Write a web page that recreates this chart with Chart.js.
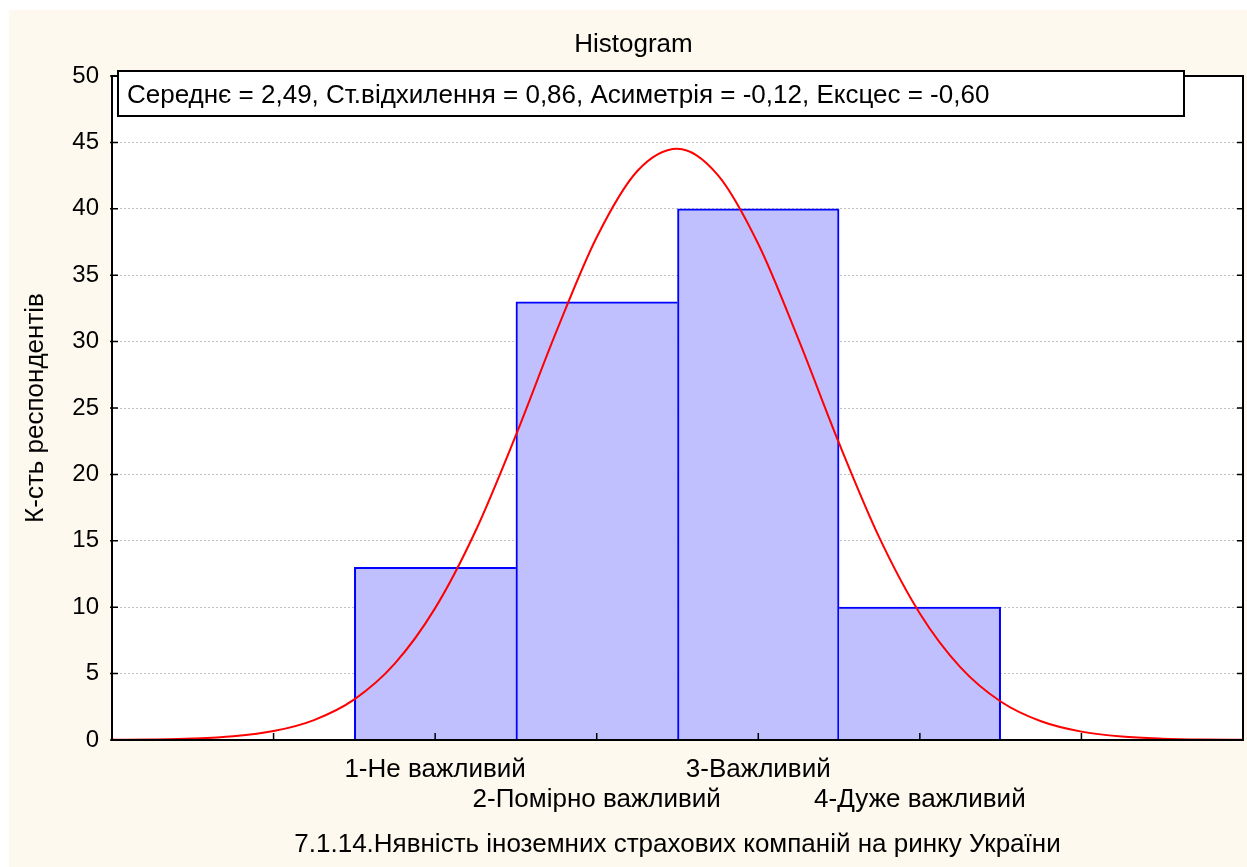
<!DOCTYPE html>
<html>
<head>
<meta charset="utf-8">
<script src="https://cdn.jsdelivr.net/npm/chart.js@4.4.0/dist/chart.umd.min.js"></script>
<style>
  html, body { margin: 0; padding: 0; background: #ffffff; }
  #wrap { position: absolute; left: 9px; top: 10px; width: 1238px; height: 857px; background: #fdf9ee; }
</style>
</head>
<body>
<div id="wrap"><canvas id="hist"></canvas></div>
<script>
// Histogram of answers with the fitted normal curve

const categories = ['1-Не важливий', '2-Помірно важливий', '3-Важливий', '4-Дуже важливий'];
const codes = [1, 2, 3, 4];                 // x position of each answer
const counts = [13, 33, 40, 10];            // respondents per answer

// normal curve, every 0.25
const curveX = [-1, -0.75, -0.5, -0.25, 0, 0.25, 0.5, 0.75, 1, 1.25, 1.5, 1.75, 2, 2.25, 2.5,
                2.75, 3, 3.25, 3.5, 3.75, 4, 4.25, 4.5, 4.75, 5, 5.25, 5.5, 5.75, 6];
const curveY = [0.01, 0.04, 0.11, 0.28, 0.67, 1.5, 3.06, 5.75, 9.93, 15.74, 22.96, 30.75, 37.86, 42.83, 44.53,
                42.54, 37.35, 30.13, 22.35, 15.22, 9.53, 5.49, 2.9, 1.41, 0.63, 0.26, 0.1, 0.03, 0.01];

const statsText = 'Середнє = 2,49, Ст.відхилення = 0,86, Асиметрія = -0,12, Ексцес = -0,60';
const xTitle = '7.1.14.Нявність іноземних страхових компаній на ринку України';
const yTitle = 'К-сть респондентів';

const FONT = '"Liberation Sans", Arial, sans-serif';
Chart.defaults.font.family = FONT;
Chart.defaults.color = '#000';

// white plot area, black frame, inward ticks, stats box
const framePlugin = {
    id: 'frame',
    beforeDraw(chart) {
        const {ctx, chartArea: a} = chart;
        ctx.save();
        ctx.fillStyle = '#ffffff';
        ctx.fillRect(a.left, a.top, a.right - a.left, a.bottom - a.top);
        ctx.restore();
    },
    afterDatasetsDraw(chart) {
        const {ctx, chartArea: a, scales: {x, y}} = chart;
        ctx.save();
        ctx.strokeStyle = '#000';
        ctx.lineWidth = 2;
        ctx.strokeRect(a.left, a.top, a.right - a.left, a.bottom - a.top);
        ctx.lineWidth = 1.5;
        ctx.beginPath();
        x.ticks.forEach(t => {
            if (t.value <= x.min || t.value >= x.max) return;
            const px = x.getPixelForValue(t.value);
            ctx.moveTo(px, a.bottom);
            ctx.lineTo(px, a.bottom - 7);
        });
        y.ticks.forEach(t => {
            const py = y.getPixelForValue(t.value);
            ctx.moveTo(a.left - 2, py);
            ctx.lineTo(a.left + 6, py);
            ctx.moveTo(a.right, py);
            ctx.lineTo(a.right - 6, py);
        });
        ctx.stroke();
        ctx.restore();
    },
    afterDraw(chart) {
        const {ctx, chartArea: a} = chart;
        const bx = a.left + 6, by = a.top - 5, bw = 1066, bh = 45;
        ctx.save();
        ctx.fillStyle = '#ffffff';
        ctx.fillRect(bx, by, bw, bh);
        ctx.strokeStyle = '#000';
        ctx.lineWidth = 2;
        ctx.strokeRect(bx, by, bw, bh);
        ctx.fillStyle = '#000';
        ctx.font = '26px ' + FONT;
        ctx.textBaseline = 'middle';
        ctx.textAlign = 'left';
        ctx.fillText(statsText, bx + 9, by + bh / 2 + 2);
        ctx.restore();
    }
};

// draw a side of a bar only where the neighbour does not cover it
function barBorders(c) {
    const i = c.dataIndex;
    const prev = i > 0 ? counts[i - 1] : -1;
    const next = i < counts.length - 1 ? counts[i + 1] : -1;
    return {top: 2, bottom: 0, left: prev <= counts[i] ? 2 : 0, right: next < counts[i] ? 2 : 0};
}

const ctx = document.getElementById('hist');
const chart = new Chart(ctx, {
    type: 'bar',
    data: {
        datasets: [
            {
                type: 'line',
                data: curveX.map((v, i) => ({x: v, y: curveY[i]})),
                borderColor: '#ff0000',
                borderWidth: 2,
                pointRadius: 0,
                cubicInterpolationMode: 'monotone',
                fill: false,
                order: 0
            },
            {
                type: 'bar',
                data: codes.map((v, i) => ({x: v, y: counts[i]})),
                backgroundColor: '#c0c0ff',
                borderColor: '#0000ff',
                borderWidth: barBorders,
                borderSkipped: false,
                barPercentage: 1,
                categoryPercentage: 1,
                order: 1
            }
        ]
    },
    options: {
        responsive: true,
        maintainAspectRatio: false,
        animation: false,
        events: [],
        layout: {padding: {left: 15, right: 4, top: 0, bottom: 0}},
        scales: {
            x: {
                type: 'linear',
                min: -1,
                max: 6,
                offset: false,
                afterFit: s => { s.height = 127; s.paddingLeft = 0; s.paddingRight = 0; },
                grid: {display: false, drawTicks: false, offset: false},
                border: {display: false},
                ticks: {
                    stepSize: 1,
                    autoSkip: false,
                    maxRotation: 0,
                    padding: 15,
                    font: {size: 26, lineHeight: 30 / 26},
                    callback: v => {
                        const i = codes.indexOf(v);
                        if (i < 0) return '';
                        return i % 2 === 0 ? [categories[i], ''] : ['', categories[i]];
                    }
                },
                title: {display: true, text: xTitle, font: {size: 26}, padding: {top: 0, bottom: 6.4}}
            },
            y: {
                min: 0,
                max: 50,
                afterFit: s => { s.width = 88; },
                grid: {
                    drawTicks: false,
                    color: '#c0c0c0',
                    lineWidth: 1
                },
                border: {display: false, dash: [2, 2]},
                ticks: {stepSize: 5, padding: 13, font: {size: 24}},
                title: {display: true, text: yTitle, font: {size: 26}, padding: {top: -3.6, bottom: 0}}
            }
        },
        plugins: {
            legend: {display: false},
            tooltip: {enabled: false},
            title: {
                display: true,
                text: 'Histogram',
                font: {size: 26, weight: 'normal'},
                padding: {top: 19.4, bottom: 15.4}
            }
        }
    },
    plugins: [framePlugin]
});
</script>
</body>
</html>
